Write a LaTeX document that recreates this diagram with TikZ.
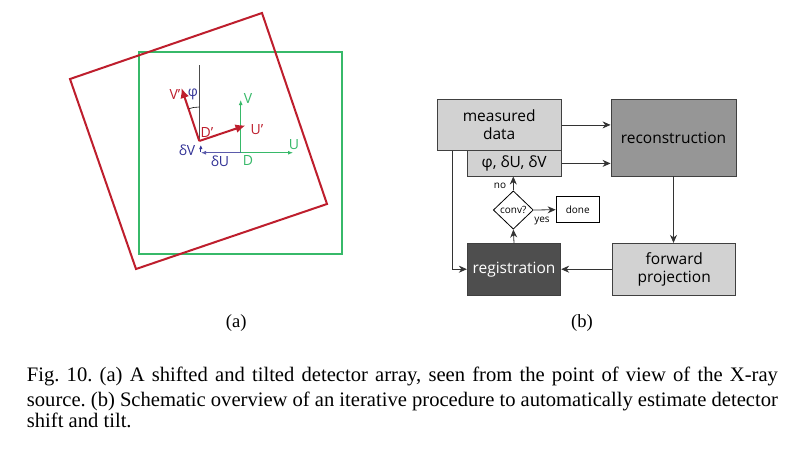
\documentclass[tikz,border=0pt]{standalone}
\usepackage{fontspec}
\setmainfont{Liberation Serif}
\newfontfamily\osans{Open Sans}
\usetikzlibrary{arrows.meta,shapes.geometric,calc}
\definecolor{dred}{RGB}{190,30,45}
\definecolor{dgreen}{RGB}{55,185,105}
\definecolor{dblue}{RGB}{50,50,150}
\definecolor{lgray}{RGB}{210,210,210}
\definecolor{mgray}{RGB}{150,150,150}
\definecolor{dgray}{RGB}{78,78,78}
\tikzset{
  lab/.style={font=\osans\fontsize{14}{16}\selectfont, inner sep=0pt},
  redarr/.style={draw=dred, line width=2pt, -{Latex[length=10pt,width=9pt]}},
  grnarr/.style={draw=dgreen, line width=0.9pt, -{Latex[length=5pt,width=4pt]}},
  bluarr/.style={draw=dblue!80, line width=0.9pt, -{Latex[length=5pt,width=4pt]}},
  blk/.style={draw=black!75, line width=0.9pt, align=center, inner sep=0pt,
     font=\osans\fontsize{15.5}{17.5}\selectfont},
  flow/.style={draw=black!80, line width=0.8pt, -{Stealth[length=8pt,width=7pt]}},
  small/.style={font=\osans\fontsize{10}{12}\selectfont, inner sep=0pt},
  sublab/.style={font=\fontsize{18.6}{23}\selectfont, inner sep=0pt},
  captxt/.style={font=\fontsize{20.6}{23}\selectfont, inner sep=0pt}
}
\begin{document}
\begin{tikzpicture}[x=1pt,y=-1pt]
\useasboundingbox (0,0) rectangle (800,448);
\fill[white] (0,0) rectangle (800,448);
% ---------- (a) ----------
\draw[dgreen, line width=1.1pt] (139,52) rectangle (342,254);
\draw[dred, line width=2pt, line join=miter] (262,13) -- (327,204) -- (136,269) -- (70,79) -- cycle;
\coordinate (Dp) at (199.3,141);
\coordinate (D) at (240.7,152.7);
\coordinate (Vtop) at (199.3,65);
\coordinate (Vpt) at (181.5,88);
\coordinate (Upt) at (245.5,125.4);
\coordinate (Vg) at (240.7,100);
\coordinate (Ug) at (293,152.7);
\coordinate (dUe) at (201,152.7);
\coordinate (dVs) at (200.8,152);
\coordinate (dVe) at (200.8,145);
\draw[black!70, line width=1pt] (Dp) -- (Vtop);
\draw[black, line width=0.6pt] (Dp) ++(0,-34) arc[start angle=-90, end angle=-108.5, radius=34];
\draw[grnarr] (D) -- (Vg);
\draw[grnarr] (D) -- (Ug);
\draw[bluarr] (D) -- (dUe);
\draw[dblue, line width=0.8pt, -{Latex[length=4pt,width=3.5pt]}] (dVs) -- (dVe);
\draw[redarr] (Dp) -- (Vpt);
\draw[redarr] (Dp) -- (Upt);
\node[lab, text=dred] (lVp) at (175,94) {V’};
\node[lab, text=dblue] (lphi) at (193,94) {φ};
\node[lab, text=dred] (lDp) at (207,132) {D’};
\node[lab, text=dred] (lUp) at (257,129.5) {U’};
\node[lab, text=dgreen] (lV) at (248,98) {V};
\node[lab, text=dgreen] (lU) at (294,145) {U};
\node[lab, text=dgreen] (lD) at (248,160) {D};
\node[lab, text=dblue] (ldV) at (187,150) {δV};
\node[lab, text=dblue] (ldU) at (220,161.5) {δU};
% ---------- (b) ----------
\node[blk, fill=lgray, minimum width=123.7pt, minimum height=51.7pt] (md) at (499.2,124.9) {measured\\data};
\node[blk, fill=lgray, minimum width=93.7pt, minimum height=25.3pt] (phi) at (514.2,163.4) {φ, δU, δV};
\node[blk, fill=mgray, minimum width=125pt, minimum height=77pt] (rec) at (673.5,137.5) {reconstruction};
\node[blk, fill=dgray, text=white, minimum width=93.4pt, minimum height=51.7pt] (reg) at (514,269.2) {registration};
\node[blk, fill=lgray, minimum width=123pt, minimum height=51.7pt] (fp) at (674.2,269.2) {forward\\projection};
\node[diamond, draw=black, line width=0.8pt, fill=white, minimum width=40pt, minimum height=38.3pt, inner sep=0pt, font=\osans\fontsize{10}{12}\selectfont] (dia) at (513.3,210) {conv?};
\node[draw=black, line width=0.8pt, minimum width=43.3pt, minimum height=26pt, inner sep=0pt, font=\osans\fontsize{10}{12}\selectfont] (done) at (577.7,209.7) {done};
\coordinate (mdl) at (452.7,150.7);
\draw[flow] (md.east) -- (md.east -| rec.west);
\draw[flow] (phi.east) -- (phi.east -| rec.west);
\draw[flow] (rec.south) -- (rec.south |- fp.north);
\draw[flow] (fp.west) -- (reg.east);
\draw[flow] (mdl) |- (reg.west);
\draw[flow] (reg.north) -- (dia.south);
\draw[flow] (dia.north) -- (dia.north |- phi.south);
\draw[flow] (dia.east) -- (done.west);
\node[small] (no) at (500,186) {no};
\node[small] (yes) at (542,221) {yes};
% ---------- captions ----------
\node[sublab, anchor=base] (ca) at (236.3,327) {(a)};
\node[sublab, anchor=base] (cb) at (582,327) {(b)};
\node[captxt, anchor=base west] (c1) at (26.7,381.7) {\frenchspacing\makebox[751pt][s]{Fig. 10. (a) A shifted and tilted detector array, seen from the point of view of the X-ray}};
\node[captxt, anchor=base west] (c2) at (26.7,406) {\frenchspacing\makebox[751pt][s]{source. (b) Schematic overview of an iterative procedure to automatically estimate detector}};
\node[captxt, anchor=base west] (c3) at (26.7,427.5) {\frenchspacing shift and tilt.};
\end{tikzpicture}
\end{document}
